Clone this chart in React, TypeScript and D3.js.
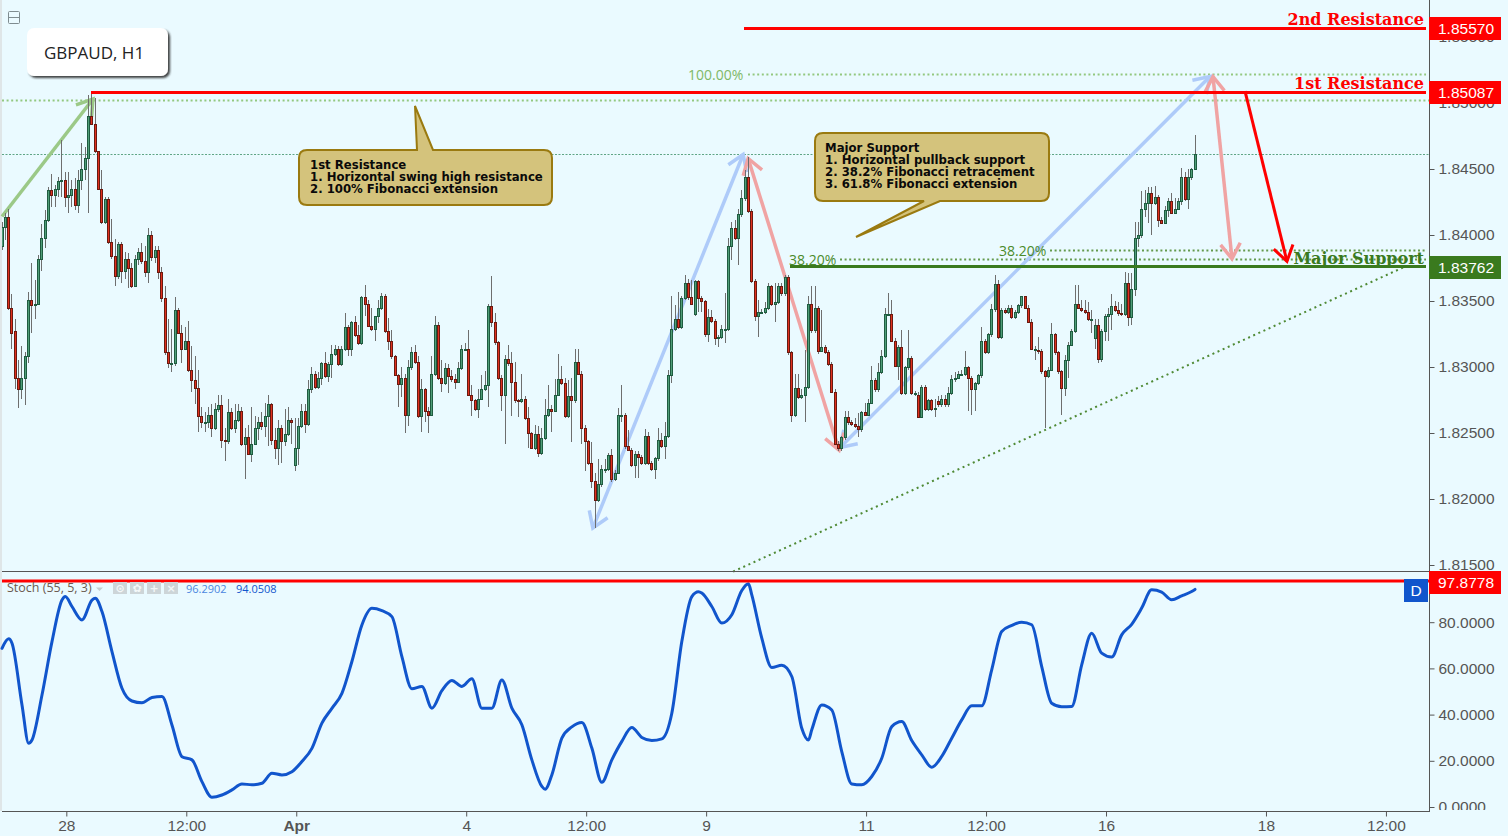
import React, { useRef, useEffect } from 'react';
import * as d3 from 'd3';

// prices are stored as pips above 1.8000
const priceBase = 1.8;
const opens = [
  392,406,414,345,327,292,283,292,308,351, 347,348,382,398,411,434,430,435,441,442,
  429,430,435,423,442,450,458,490,484,464, 435,410,427,395,384,369,393,373,382,375,
  361,382,387,380,372,400,383,389,372,352, 311,303,303,343,326,314,320,298,290,284,
  263,258,258,264,254,268,271,245,244,266, 254,260,267,242,247,234,242,254,258,255,
  263,272,245,239,254,244,249,260,226,239, 255,267,257,283,295,285,292,303,293,302,
  310,314,302,314,330,314,334,324,318,353, 348,331,329,339,345,354,327,320,308,294,
  287,292,264,300,311,304,263,283,267,264, 295,332,292,288,299,293,291,289,299,314,
  314,279,275,268,276,283,286,346,334,319, 292,279,306,303,289,275,274,276,261,250,
  239,249,235,246,264,268,267,279,291,288, 263,278,275,304,295,254,244,227,214,199,
  211,223,223,233,215,220,264,264,240,237, 226,234,232,227,248,227,223,231,245,240,
  248,294,329,336,330,352,364,353,340,365, 352,350,325,338,335,322,323,328,329,392,
  405,398,416,428,444,418,365,339,342,342, 345,361,348,349,361,356,368,311,264,284,
  277,279,285,348,328,345,312,315,311,302, 281,242,239,247,262,258,257,255,253,266,
  264,273,290,283,296,308,340,340,320,301, 315,280,300,307,280,279,262,285,268,275,
  268,274,272,276,272,280,291,292,295,295, 300,292,283,288,294,320,311,325,344,363,
  323,343,342,345,338,342,347,354,345,334, 314,313,312,297,293,298,325,311,297,284,
  305,317,327,348,345,343,342,336,322,332, 306,327,339,340,346,343,341,340,364,338,
  359,398,400,420,424,432,424,429,411,409, 419,426,417,420,426,444,427,444,450
];
const highs = [
  410,417,420,355,336,305,316,311,357,379, 366,385,408,419,436,446,438,444,472,448,
  448,442,443,449,470,467,506,507,504,464, 449,429,429,412,397,395,395,387,386,379,
  385,390,394,392,405,403,392,392,376,361, 336,329,353,345,332,330,335,316,308,298,
  270,266,270,272,273,279,279,254,276,269, 272,272,270,254,256,270,263,262,266,273,
  279,273,254,260,256,268,270,261,261,261, 272,272,290,300,297,296,304,311,304,317,
  317,316,316,341,332,335,339,332,354,362, 351,345,339,351,356,355,337,328,309,295,
  300,295,305,315,317,308,291,284,270,308, 339,334,305,303,302,298,295,304,317,318,
  328,286,276,283,294,297,348,369,341,320, 294,309,317,311,304,276,295,278,270,251,
  256,255,254,276,286,271,291,310,301,292, 290,292,314,314,297,256,245,243,220,230,
  226,230,235,238,222,269,286,265,252,239, 236,236,233,253,251,229,232,254,250,258,
  298,354,347,357,354,370,367,366,366,366, 354,351,344,343,336,324,332,356,398,410,
  411,420,434,449,459,420,367,351,344,349, 364,362,364,364,364,370,370,312,295,295,
  283,313,354,361,361,346,343,317,313,304, 283,244,248,267,267,260,261,265,267,273,
  276,301,292,303,313,345,356,351,322,317, 328,301,328,308,282,281,286,286,276,276,
  276,278,279,279,285,294,296,297,298,312, 301,293,289,295,330,321,326,348,370,366,
  345,345,347,347,343,348,354,354,347,336, 316,323,314,298,300,333,326,312,298,309,
  319,329,362,362,351,351,349,343,336,336, 329,340,345,355,350,349,348,372,371,371,
  410,410,433,434,436,436,437,430,414,422, 428,432,428,428,451,448,450,451,476
];
const lows = [
  389,396,343,314,283,269,276,271,303,326, 336,347,373,390,410,421,421,429,429,421,
  417,421,419,417,434,442,417,483,462,434, 408,408,393,382,361,367,364,367,360,360,
  361,377,378,368,364,380,379,367,349,309, 299,296,301,325,303,313,296,281,272,251,
  254,251,254,247,252,266,239,229,242,252, 250,258,240,215,233,228,241,245,252,247,
  240,241,230,226,227,240,248,242,221,226, 254,250,255,280,283,283,286,292,289,292,
  308,301,301,312,308,308,323,317,317,339, 330,327,320,333,343,326,313,306,293,270,
  277,250,255,298,302,261,251,258,250,263, 293,290,281,286,280,289,283,288,298,313,
  278,263,267,261,275,282,270,330,317,290, 267,242,301,263,273,262,273,260,239,238,
  237,232,233,245,262,251,266,278,286,261, 261,243,273,294,242,221,226,208,178,198,
  209,220,221,213,214,219,258,238,236,224, 216,216,226,226,226,221,215,229,239,230,
  246,288,327,329,329,351,351,347,339,342, 342,323,319,333,317,315,321,318,327,381,
  396,377,414,426,417,364,335,323,340,340, 343,346,334,348,354,354,309,258,262,276,
  276,258,283,326,326,310,311,310,301,280, 241,236,236,245,256,255,254,247,251,263,
  263,272,281,281,295,307,339,319,300,290, 279,279,298,279,278,261,261,267,267,267,
  262,270,270,270,270,279,289,291,293,293, 267,264,267,286,292,310,310,323,342,321,
  321,340,340,336,336,340,345,344,333,313, 305,310,295,254,292,297,309,295,264,278,
  292,316,326,344,342,340,335,326,314,303, 304,320,320,328,342,339,339,339,331,332,
  354,391,398,414,409,400,423,406,408,408, 414,416,416,419,423,426,420,442,449
];
const closes = [
  406,414,345,326,292,283,292,308,351,347, 348,382,398,411,434,430,435,441,442,429,
  430,435,423,442,450,458,490,484,464,435, 410,427,395,384,369,393,373,382,375,361,
  382,387,380,372,400,383,389,372,352,311, 303,303,343,326,314,320,298,290,284,263,
  258,258,264,254,268,271,245,244,266,254, 260,267,242,247,234,242,254,258,255,263,
  272,245,239,254,244,249,260,258,239,255, 267,257,283,295,285,292,303,293,302,310,
  314,302,314,330,314,334,324,318,353,348, 331,329,339,345,354,327,320,308,294,287,
  292,264,300,311,304,263,283,267,264,295, 332,292,288,299,293,291,289,299,314,314,
  279,275,268,276,283,286,346,334,319,292, 279,306,303,289,275,274,276,261,250,239,
  249,235,246,264,268,267,279,291,288,263, 278,275,304,295,254,244,227,214,199,211,
  223,223,233,215,220,264,264,240,237,226, 234,232,227,248,227,223,231,245,240,248,
  294,329,336,330,352,364,353,348,365,352, 350,325,338,335,322,323,329,329,392,405,
  398,416,428,444,418,365,339,342,342,345, 361,348,349,361,356,368,311,264,284,277,
  279,285,348,328,345,312,315,311,302,281, 242,239,247,262,258,257,255,253,266,264,
  273,290,283,296,308,340,340,320,301,315, 280,300,307,280,280,262,285,268,275,268,
  269,272,276,272,280,291,292,295,295,300, 292,283,288,294,320,311,325,344,363,323,
  343,342,345,338,342,347,354,345,334,314, 314,312,297,293,298,325,311,297,284,305,
  317,327,348,345,343,342,336,336,332,306, 327,339,340,346,343,341,340,364,338,359,
  398,400,420,424,432,424,429,411,409,419, 426,417,420,426,444,427,444,450,461
];

const stochBars = [
  0,2,3,6,8,9,12,15,18,19,21,24,27,28,30,33,36,39,42,45,48,51,54,57,60,63,66,69,72,75,78,81,84,87,90,93,96,99,102,105,
  108,111,114,117,120,123,126,129,132,135,138,141,144,147,150,153,156,159,162,163,165,168,171,174,177,180,183,186,189,192,
  195,198,201,204,207,209,210,213,216,219,222,224,225,228,231,234,237,240,242,243,246,249,252,255,258,261,264,267,270,273,
  276,279,282,285,288,291,294,297,300,303,306,309,312,315,318,321,324,327,330,333,336,339,342,345,348,351,354,357,358
];
const stochValues = [
  68.7,72.8,70.9,44.2,27.6,29,48.5,71.6,89.6,91.1,86.8,81,89.6,90.4,84.6,67.3,51.4,45.9,45.1,47.4,47.8,35.5,21.8,20.4,11,4.2,5.2,7.4,10,9.6,10.3,14.6,13.9,15.3,19.7,25.4,36.3,42.7,49.2,63,
  78.8,86,85,82.4,65.1,51.2,52.2,42.8,50.4,54.8,52.2,55.5,42.8,42.8,55,42.8,35.6,20.4,8.9,7.7,13.9,29.8,34.7,36.6,25.5,10.7,20.4,28.4,34.4,30.1,
  28.8,29.5,40.6,71.6,91.1,93.2,92.6,86.8,79.6,83.2,93.7,96.6,91.8,73.1,60.4,61.4,56.5,34.1,29,33.4,44.2,42,24,10,9.6,13.2,21.1,34.8,37,28.8,
  22.6,17.2,21.9,29.8,37.7,43.8,43.8,59.4,76,78.6,80,78.9,60.8,44.9,43.4,43.5,61.5,75.2,66.6,64.9,74.5,79.1,86.1,94,93,89.7,91.4,93.3,94.2
];

const priceTicks = [1.815, 1.82, 1.825, 1.83, 1.835, 1.84, 1.845, 1.85, 1.855];
const stochTicks = [0, 20, 40, 60, 80];
const timeTickBars = [19, 55, 88, 139, 175, 211, 259, 295, 331, 379, 415];
const timeTickLabels = ['28', '12:00', 'Apr', '4', '12:00', '9', '11', '12:00', '16', '18', '12:00'];

const resistance2 = 1.8557;
const resistance1 = 1.85087;
const majorSupport = 1.83762;
const stochLevel = 97.8778;
const lastPrice = 1.8461;
const swingDots = 1.85022;
const fib100 = 1.8522;
const fib382a = 1.83815;
const fib382b = 1.83886;

// fromBar, fromPrice, toBar, toPrice, double headed
const greenArrows = [[0, 1.8414, 27.3, 1.8503, false]];
const blueArrows = [
  [177.3, 1.8178, 222.4, 1.8461, true],
  [251.5, 1.8239, 362.5, 1.852, true]
];
const pinkArrows = [
  [223.9, 1.8458, 251.2, 1.8237, true],
  [363.4, 1.852, 369.1, 1.8382, true]
];
const redArrows = [[373, 1.8509, 385.6, 1.838, false]];

const callout1Lines = ['1st Resistance', '1. Horizontal swing high resistance', '2. 100% Fibonacci extension'];
const callout2Lines = ['Major Support', '1. Horizontal pullback support', '2. 38.2% Fibonacci retracement', '3. 61.8% Fibonacci extension'];

const App = () => {
  const svgRef = useRef<SVGSVGElement | null>(null);

  useEffect(() => {
    const width = 1508;
    const height = 836;
    const axisX = 1429;
    const paneBottom = 571;
    const stochBottom = 811;
    const lineEnd = 1426;
    const bg = '#eafaff';
    const axisColor = '#555';

    const x = d3.scaleLinear().domain([0, 358]).range([2, 1195]);
    const y = d3.scaleLinear().domain([1.815, 1.855]).range([565, 37]);
    const yStoch = d3.scaleLinear().domain([0, 100]).range([807, 576]);
    const pipPrice = (v: number) => priceBase + v / 10000;

    const svg = d3.select(svgRef.current);
    svg.selectAll('*').remove();
    svg.attr('width', width).attr('height', height)
      .style('position', 'absolute').style('left', 0).style('top', 0).style('display', 'block');

    svg.append('rect').attr('width', width).attr('height', height).attr('fill', bg);
    svg.append('rect').attr('width', 2).attr('height', stochBottom).attr('fill', '#dfe6e8');

    const defs = svg.append('defs');
    defs.append('clipPath').attr('id', 'main-axis-clip').append('rect')
      .attr('x', axisX).attr('y', 0).attr('width', 80).attr('height', paneBottom);
    defs.append('clipPath').attr('id', 'stoch-axis-clip').append('rect')
      .attr('x', axisX).attr('y', paneBottom).attr('width', 80).attr('height', stochBottom - paneBottom - 1);
    defs.append('clipPath').attr('id', 'pane-clip').append('rect')
      .attr('x', 2).attr('y', 0).attr('width', axisX - 2).attr('height', paneBottom);
    const blur = defs.append('filter').attr('id', 'label-shadow').attr('x', '-10%').attr('y', '-20%').attr('width', '125%').attr('height', '150%');
    blur.append('feDropShadow').attr('dx', 2).attr('dy', 2).attr('stdDeviation', 1.2).attr('flood-color', '#222').attr('flood-opacity', 0.85);

    // levels under the candles
    const hLine = (parent: any, price: number, fromX: number, toX: number, color: string, w: number, dash?: string) => {
      const l = parent.append('line')
        .attr('x1', fromX).attr('x2', toX)
        .attr('y1', Math.round(y(price)) + 0.5).attr('y2', Math.round(y(price)) + 0.5)
        .attr('stroke', color).attr('stroke-width', w);
      if (dash) l.attr('stroke-dasharray', dash);
      return l;
    };
    hLine(svg, lastPrice, 2, axisX, '#5fa585', 1, '2 1.5');
    hLine(svg, swingDots, 2, axisX, '#93c880', 2, '2 2.6');
    hLine(svg, fib100, 748, lineEnd, '#93c880', 2, '2 2.6');
    hLine(svg, fib382a, 840, lineEnd, '#649a4c', 2, '2 2.6');
    hLine(svg, fib382b, 1050, lineEnd, '#649a4c', 2, '2 2.6');

    // rising support
    svg.append('line')
      .attr('x1', x(219.4)).attr('y1', y(1.8145))
      .attr('x2', x(421)).attr('y2', y(1.8376))
      .attr('stroke', '#4f8a35').attr('stroke-width', 2).attr('stroke-dasharray', '2 3.6');

    const drawArrows = (list: any[], color: string, w: number) => {
      const head = (tipX: number, tipY: number, fromX: number, fromY: number) => {
        const ang = Math.atan2(fromY - tipY, fromX - tipX);
        const len = 18;
        const spread = 0.58;
        const pts: [number, number][] = [
          [tipX + len * Math.cos(ang - spread), tipY + len * Math.sin(ang - spread)],
          [tipX, tipY],
          [tipX + len * Math.cos(ang + spread), tipY + len * Math.sin(ang + spread)]
        ];
        svg.append('path').attr('d', d3.line()(pts))
          .attr('fill', 'none').attr('stroke', color).attr('stroke-width', w);
      };
      list.forEach(([b0, p0, b1, p1, both]) => {
        const x0 = x(b0), y0 = y(p0), x1 = x(b1), y1 = y(p1);
        svg.append('line').attr('x1', x0).attr('y1', y0).attr('x2', x1).attr('y2', y1)
          .attr('stroke', color).attr('stroke-width', w);
        head(x1, y1, x0, y0);
        if (both) head(x0, y0, x1, y1);
      });
    };
    drawArrows(greenArrows, '#9bc987', 3.5);
    drawArrows(blueArrows, '#aecbf9', 3.5);
    drawArrows(pinkArrows, '#f0a3a3', 3.5);

    // candles
    const candles = svg.append('g').attr('clip-path', 'url(#pane-clip)');
    const barIdx = d3.range(opens.length);
    const upColor = (i: number) => closes[i] >= opens[i];
    candles.append('g').selectAll('line').data(barIdx).join('line')
      .attr('x1', d => Math.floor(x(d)) + 0.5).attr('x2', d => Math.floor(x(d)) + 0.5)
      .attr('y1', d => Math.round(y(pipPrice(highs[d])))).attr('y2', d => Math.round(y(pipPrice(lows[d]))))
      .attr('stroke', '#6e6e6e').attr('stroke-width', 1);
    candles.append('g').selectAll('rect').data(barIdx).join('rect')
      .attr('x', d => Math.floor(x(d)) - 0.5)
      .attr('width', 2)
      .attr('y', d => Math.round(y(pipPrice(Math.max(opens[d], closes[d])))) + 0.5)
      .attr('height', d => Math.max(1, Math.round(y(pipPrice(Math.min(opens[d], closes[d])))) - Math.round(y(pipPrice(Math.max(opens[d], closes[d]))))))
      .attr('fill', d => upColor(d) ? '#4f9d78' : '#e0301e')
      .attr('stroke', d => upColor(d) ? '#1f5c40' : '#6a1a10')
      .attr('stroke-width', 1)
      .attr('shape-rendering', 'crispEdges');

    drawArrows(redArrows, '#ff0000', 3);

    // horizontal levels
    hLine(svg, resistance2, 744, lineEnd, '#ff0000', 3);
    hLine(svg, resistance1, 91, lineEnd, '#ff0000', 3);
    hLine(svg, majorSupport, 790, lineEnd, '#3a7a1e', 3);

    const fibText = (txt: string, tx: number, ty: number, color: string) => {
      svg.append('text').attr('x', tx).attr('y', ty).text(txt)
        .attr('fill', color).attr('font-family', 'Open Sans, sans-serif').attr('font-size', 14);
    };
    fibText('100.00%', 688, 80, '#7fb866');
    fibText('38.20%', 789, 265, '#4a8a2a');
    fibText('38.20%', 999, 256, '#4a8a2a');

    const levelText = (txt: string, ty: number, color: string) => {
      svg.append('text').attr('x', 1424).attr('y', ty).text(txt)
        .attr('text-anchor', 'end').attr('fill', color)
        .attr('font-family', 'DejaVu Serif, serif').attr('font-weight', 'bold').attr('font-size', 16);
    };
    levelText('2nd Resistance', 25, '#ff0000');
    levelText('1st Resistance', 89, '#ff0000');
    levelText('Major Support', 264, '#3a7a1e');

    // callouts
    const callout = (d: string, lines: string[], tx: number, ty: number) => {
      svg.append('path').attr('d', d).attr('fill', '#d4c37c').attr('stroke', '#9a7a10').attr('stroke-width', 2);
      lines.forEach((t, i) => {
        svg.append('text').attr('x', tx).attr('y', ty + i * 12).text(t)
          .attr('fill', '#0a0a0a').attr('font-family', 'DejaVu Sans, sans-serif')
          .attr('font-weight', 'bold').attr('font-size', 11.7);
      });
    };
    callout('M307 150H417L415 106L433 150H544Q552 150 552 158V197Q552 205 544 205H307Q299 205 299 197V158Q299 150 307 150Z', callout1Lines, 310, 169);
    callout('M823 133H1041Q1049 133 1049 141V193Q1049 201 1041 201H940L856 237L924 201H823Q815 201 815 193V141Q815 133 823 133Z', callout2Lines, 825, 152);

    // symbol box
    svg.append('rect').attr('x', 27).attr('y', 28).attr('width', 141).attr('height', 48).attr('rx', 7)
      .attr('fill', '#fff').attr('filter', 'url(#label-shadow)');
    svg.append('text').attr('x', 44).attr('y', 59).text('GBPAUD, H1')
      .attr('fill', '#222').attr('font-family', 'Open Sans, sans-serif').attr('font-size', 17);
    svg.append('rect').attr('x', 8.5).attr('y', 11.5).attr('width', 11).attr('height', 12).attr('rx', 1)
      .attr('fill', 'none').attr('stroke', '#7f8c90');
    svg.append('line').attr('x1', 8).attr('x2', 20).attr('y1', 17.5).attr('y2', 17.5).attr('stroke', '#7f8c90');

    // stochastic pane
    svg.append('path')
      .attr('d', d3.line<number>()
        .x((_, i) => x(stochBars[i]))
        .y(d => yStoch(d))
        .curve(d3.curveMonotoneX)(stochValues))
      .attr('fill', 'none').attr('stroke', '#1155cc').attr('stroke-width', 3)
      .attr('stroke-linejoin', 'round').attr('stroke-linecap', 'round');

    svg.append('line').attr('x1', 2).attr('x2', axisX).attr('y1', yStoch(stochLevel)).attr('y2', yStoch(stochLevel))
      .attr('stroke', '#ff0000').attr('stroke-width', 3);

    svg.append('text').attr('x', 7).attr('y', 592).text('Stoch (55, 5, 3)')
      .attr('fill', '#6b5b50').attr('font-family', 'Open Sans, sans-serif').attr('font-size', 12.5);
    svg.append('path').attr('d', 'M96 587.5h7l-3.5 3.5z').attr('fill', '#c4cdd0');
    [113, 130, 147, 164].forEach(px => {
      svg.append('rect').attr('x', px).attr('y', 582).attr('width', 14).attr('height', 12).attr('fill', '#cdd5d8');
    });
    ['⊙', '✿', '+', '×'].forEach((g, i) => {
      svg.append('text').attr('x', 120 + i * 17).attr('y', 592).text(g).attr('text-anchor', 'middle')
        .attr('fill', '#f4f8f9').attr('font-family', 'DejaVu Sans, sans-serif').attr('font-size', 11).attr('font-weight', 'bold');
    });
    svg.append('text').attr('x', 186).attr('y', 593).text('96.2902')
      .attr('fill', '#4b87e0').attr('font-family', 'Open Sans, sans-serif').attr('font-size', 11);
    svg.append('text').attr('x', 236).attr('y', 593).text('94.0508')
      .attr('fill', '#1155cc').attr('font-family', 'Open Sans, sans-serif').attr('font-size', 11);

    // axes
    const styleAxis = (g: any) => {
      g.select('.domain').remove();
      g.selectAll('line').attr('stroke', axisColor);
      g.selectAll('text').attr('fill', axisColor).attr('font-family', 'Liberation Sans, Arial, sans-serif').attr('font-size', 15.5);
    };
    const mainAxis = svg.append('g').attr('clip-path', 'url(#main-axis-clip)')
      .append('g').attr('transform', `translate(${axisX + 0.5},0)`)
      .call(d3.axisRight(y).tickValues(priceTicks).tickFormat(d3.format('.5f')).tickSize(5).tickPadding(4) as any);
    styleAxis(mainAxis);
    const stochAxis = svg.append('g').attr('clip-path', 'url(#stoch-axis-clip)')
      .append('g').attr('transform', `translate(${axisX + 0.5},0)`)
      .call(d3.axisRight(yStoch).tickValues(stochTicks).tickFormat(d3.format('.4f')).tickSize(5).tickPadding(4) as any);
    styleAxis(stochAxis);

    const timeAxis = svg.append('g').attr('transform', `translate(1,${stochBottom + 0.5})`)
      .call(d3.axisBottom(x).tickValues(timeTickBars).tickFormat((_, i) => timeTickLabels[i]).tickSize(5).tickPadding(3) as any);
    styleAxis(timeAxis);
    timeAxis.selectAll('text').filter((_: any, i: number) => timeTickLabels[i] === 'Apr').attr('font-weight', 'bold');

    // pane frames
    const frame = (x1: number, y1: number, x2: number, y2: number) => {
      svg.append('line').attr('x1', x1).attr('y1', y1).attr('x2', x2).attr('y2', y2).attr('stroke', axisColor).attr('stroke-width', 1);
    };
    frame(2, paneBottom + 0.5, axisX, paneBottom + 0.5);
    frame(2, stochBottom + 0.5, axisX + 0.5, stochBottom + 0.5);
    frame(axisX + 0.5, 0, axisX + 0.5, stochBottom + 1);

    // price tags
    const tag = (txt: string, cy: number, fill: string) => {
      svg.append('rect').attr('x', axisX).attr('y', cy - 11.5).attr('width', 72).attr('height', 23).attr('fill', fill);
      svg.append('text').attr('x', 1438).attr('y', cy + 5).text(txt)
        .attr('fill', '#fff').attr('font-family', 'Liberation Sans, Arial, sans-serif').attr('font-size', 15.5);
    };
    tag('1.85570', 28.5, '#ff0000');
    tag('1.85087', 92.5, '#ff0000');
    tag('1.83762', 267.5, '#3a7a1e');
    tag('97.8778', 582.5, '#ff0000');

    svg.append('rect').attr('x', 1404).attr('y', 579).attr('width', 24).attr('height', 23).attr('fill', '#1155cc');
    svg.append('text').attr('x', 1416).attr('y', 596).text('D').attr('text-anchor', 'middle')
      .attr('fill', '#fff').attr('font-family', 'Liberation Sans, Arial, sans-serif').attr('font-size', 15.5);
  }, []);

  return <div><svg ref={svgRef}></svg></div>;
};

export default App;
